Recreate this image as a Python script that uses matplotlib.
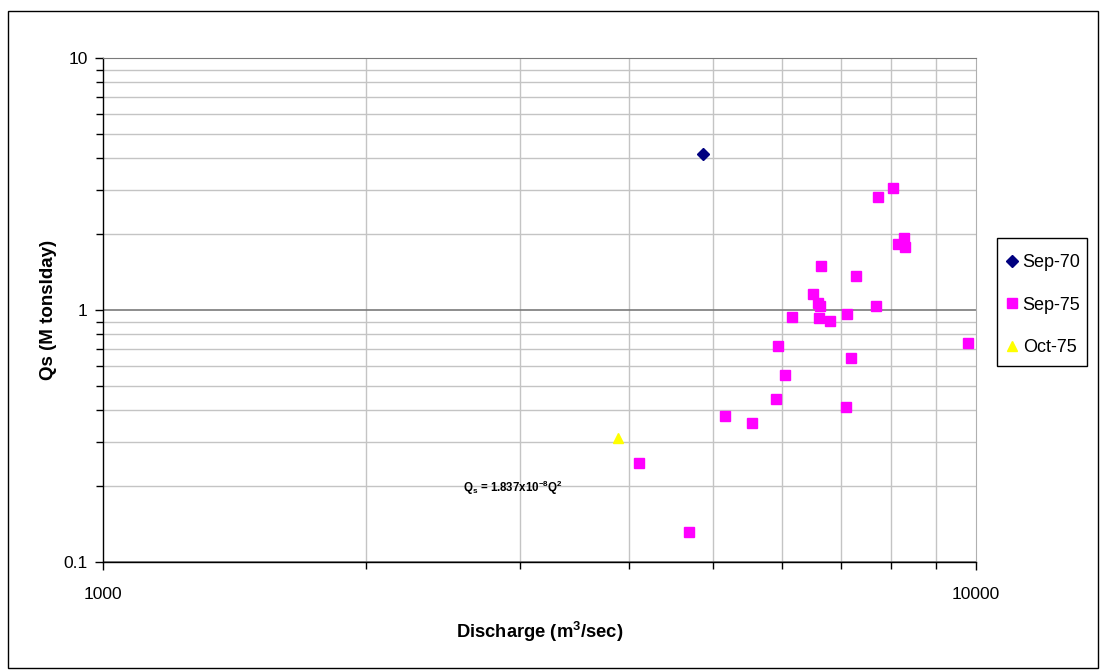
import matplotlib
matplotlib.use("Agg")
import matplotlib.pyplot as plt
import matplotlib.ticker as mticker
from matplotlib.patches import Rectangle

plt.rcParams['font.family'] = ['Liberation Sans', 'DejaVu Sans']

# Discharge (m3/sec) and sediment load Qs (M tons/day) per survey
sep70_q = [4870]
sep70_qs = [4.16]

sep75_q = [8042, 7716, 8265, 8135, 8293, 6643, 7282, 6504, 6586, 6626,
           7689, 6160, 6609, 7122, 6800, 5932, 9783, 7192, 6046, 5896,
           7098, 5159, 5538, 4108, 4694]
sep75_qs = [3.04, 2.82, 1.925, 1.82, 1.784, 1.49, 1.365, 1.161, 1.066, 1.034,
            1.034, 0.941, 0.93, 0.964, 0.907, 0.722, 0.738, 0.645, 0.554, 0.442,
            0.412, 0.380, 0.355, 0.247, 0.1315]

oct75_q = [3887]
oct75_qs = [0.310]

x_ticks = [1000, 10000]
x_tick_labels = ["1000", "10000"]
y_ticks = [0.1, 1, 10]
y_tick_labels = ["0.1", "1", "10"]

W, H = 1101, 670
fig = plt.figure(figsize=(W / 100, H / 100), dpi=100)
ax = fig.add_axes([103 / W, 1 - 562 / H, 873 / W, 504 / H])

ax.set_xscale('log')
ax.set_yscale('log')
ax.set_xlim(1000, 10000)
ax.set_ylim(0.1, 10)

# grid: light minor lines, darker major line at 1
ax.xaxis.set_minor_locator(mticker.LogLocator(base=10, subs=range(2, 10)))
ax.yaxis.set_minor_locator(mticker.LogLocator(base=10, subs=range(2, 10)))
ax.xaxis.set_minor_formatter(mticker.NullFormatter())
ax.yaxis.set_minor_formatter(mticker.NullFormatter())
ax.set_xticks(x_ticks)
ax.set_xticklabels(x_tick_labels)
ax.set_yticks(y_ticks)
ax.set_yticklabels(y_tick_labels)

ax.grid(which='minor', axis='both', color='#c4c4c4', linewidth=1.0)
ax.grid(which='major', axis='y', color='#7a7a7a', linewidth=1.2)
ax.set_axisbelow(True)

ax.tick_params(which='both', direction='out', color='black', width=1.0,
               labelsize=12.5)
ax.tick_params(axis='x', which='both', pad=12)
ax.tick_params(axis='y', which='both', pad=5)
ax.tick_params(which='major', length=6)
ax.tick_params(which='minor', length=5)

ax.spines['top'].set_color('#7a7a7a')
ax.spines['right'].set_color('#b0b0b0')
for side in ('left', 'bottom'):
    ax.spines[side].set_color('black')
    ax.spines[side].set_linewidth(1.0)

ax.plot(sep70_q, sep70_qs, linestyle='none', marker='D', markersize=6,
        color='#000080', label='Sep-70', clip_on=False)
ax.plot(sep75_q, sep75_qs, linestyle='none', marker='s', markersize=7,
        color='#ff00ff', label='Sep-75', clip_on=False)
ax.plot(oct75_q, oct75_qs, linestyle='none', marker='^', markersize=7,
        color='#ffff00', label='Oct-75', clip_on=False)

ax.text(2949, 0.197, r'Q$_\mathregular{s}$ = 1.837x10$^\mathregular{-8}$Q$^\mathregular{2}$',
        fontsize=8.3, fontweight='bold', ha='center', va='center')

ax.set_xlabel(r'Discharge (m$^\mathregular{3}$/sec)', fontsize=13.2,
              fontweight='bold', labelpad=13)
ax.set_ylabel('Qs (M tonsIday)', fontsize=13.5, fontweight='bold', labelpad=5)

# legend entries, with a plain box drawn around them
fig.legend(loc='upper left', bbox_to_anchor=(992 / W, 1 - 240 / H),
           frameon=False, fontsize=13, handlelength=0.6, handletextpad=0.3,
           labelspacing=1.4, borderpad=0.8, borderaxespad=0)
fig.patches.append(Rectangle((997 / W, 1 - 366 / H), 90 / W, 128 / H,
                             transform=fig.transFigure, fill=False,
                             edgecolor='black', linewidth=1.0))

# outer chart border
fig.patches.append(Rectangle((8 / W, 2 / H), 1090 / W, 657 / H,
                             transform=fig.transFigure, fill=False,
                             edgecolor='black', linewidth=1.0))

fig.savefig('out.png', dpi=100)
